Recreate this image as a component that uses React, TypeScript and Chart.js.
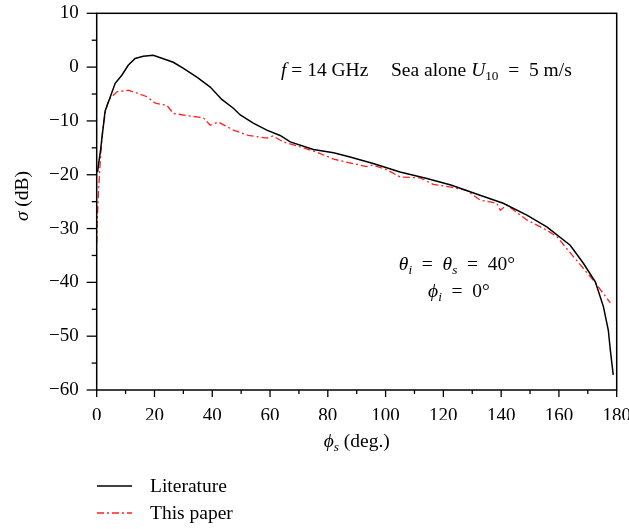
import React, { useEffect, useRef } from "react";
import { Chart, registerables } from "chart.js";

Chart.register(...registerables);

// Literature (black solid)
const litX = [0.3, 0.6, 1.2, 2.9, 6.4, 8.7, 10.9, 13.3, 16.1, 19.6, 26.5, 29.9, 34.8, 39.3, 43.3, 47.2, 49.7, 54.2, 58.9, 63.5, 67, 75, 82, 87.7, 95.7, 105, 114.3, 122.6, 132.7, 140.7, 148.9, 155.8, 163.9, 168.4, 172.6, 175.4, 177.1, 177.8, 178.8];
const litY = [-19.5, -18.2, -16, -8.2, -3.0, -1.5, 0.35, 1.6, 2.0, 2.2, 0.9, -0.2, -1.9, -3.7, -6.0, -7.6, -8.9, -10.4, -11.7, -12.7, -13.9, -15.3, -15.9, -16.7, -17.9, -19.5, -20.7, -21.9, -23.8, -25.3, -27.5, -29.7, -33.1, -36.4, -39.9, -44.5, -48.9, -52.6, -57.2];

// This paper (red dash-dot)
const papX = [0, 0.1, 0.6, 1.2, 2.0, 2.9, 4, 7, 10.9, 14.4, 17.4, 20.3, 24.3, 26.5, 32.4, 36.9, 39.3, 42.1, 47.3, 52.5, 59, 61, 64.6, 70.4, 76.2, 82, 87.7, 93.5, 95.7, 100.5, 105, 112, 116.5, 122.6, 128.1, 132.7, 138.5, 139.7, 142, 148.9, 155.8, 159.3, 165, 171.9, 177.8];
const papY = [-32.7, -29.7, -23.4, -17.9, -12, -8.6, -6.2, -4.6, -4.3, -4.9, -5.5, -6.7, -7.1, -8.6, -9.1, -9.4, -10.8, -10.2, -11.7, -12.7, -13.2, -12.8, -13.9, -14.8, -15.8, -17.1, -17.8, -18.5, -18.2, -19.1, -20.4, -20.6, -21.8, -22.3, -22.9, -24.7, -25.3, -26.6, -25.6, -28.4, -30.3, -31.5, -35.2, -39.6, -43.8];

const xMin = 0, xMax = 180, xStep = 10, xLabelStep = 20;
const yMin = -60, yMax = 10, yStep = 5, yLabelStep = 10;

const seriesNames = ["Literature", "This paper"];

const FONT = "'Liberation Serif', 'DejaVu Serif', serif";
const TICK_SIZE = 19;
const TEXT_SIZE = 19.5;

type Part = { t: string; i?: boolean; sub?: boolean };

function partFont(p: Part, size: number) {
  const s = p.sub ? size * 0.68 : size;
  return `${p.i ? "italic " : ""}${s}px ${FONT}`;
}

function measureRich(ctx: CanvasRenderingContext2D, parts: Part[], size: number) {
  let w = 0;
  for (const p of parts) {
    ctx.font = partFont(p, size);
    w += ctx.measureText(p.t).width;
  }
  return w;
}

function drawRich(ctx: CanvasRenderingContext2D, parts: Part[], x: number, y: number, size: number, align: "left" | "center" = "left") {
  let cx = x;
  if (align === "center") cx = x - measureRich(ctx, parts, size) / 2;
  ctx.textAlign = "left";
  ctx.textBaseline = "alphabetic";
  for (const p of parts) {
    ctx.font = partFont(p, size);
    ctx.fillText(p.t, cx, p.sub ? y + size * 0.22 : y);
    cx += ctx.measureText(p.t).width;
  }
}

const decorPlugin = {
  id: "decor",
  afterDraw(chart: any) {
    const ctx: CanvasRenderingContext2D = chart.ctx;
    const { left, right, top, bottom } = chart.chartArea;
    const xs = chart.scales.x;
    const ys = chart.scales.y;
    ctx.save();
    ctx.strokeStyle = "#000";
    ctx.fillStyle = "#000";
    ctx.lineWidth = 1.5;
    ctx.strokeRect(left, top, right - left, bottom - top);
    ctx.lineWidth = 1.3;
    for (let v = xMin; v <= xMax; v += xStep) {
      const px = xs.getPixelForValue(v);
      const len = v % xLabelStep === 0 ? 7 : 4;
      ctx.beginPath();
      ctx.moveTo(px, bottom);
      ctx.lineTo(px, bottom + len);
      ctx.stroke();
    }
    for (let v = yMin; v <= yMax; v += yStep) {
      const py = ys.getPixelForValue(v);
      const len = v % yLabelStep === 0 ? 10 : 5;
      ctx.beginPath();
      ctx.moveTo(left, py);
      ctx.lineTo(left - len, py);
      ctx.stroke();
    }
    const size = TEXT_SIZE;
    // annotations
    drawRich(ctx, [{ t: "f", i: true }, { t: " = 14 GHz" }], 281, 76, size);
    drawRich(ctx, [{ t: "Sea alone " }, { t: "U", i: true }, { t: "10", sub: true }, { t: "  =  5 m/s" }], 391, 76, size);
    drawRich(ctx, [{ t: "θ", i: true }, { t: "i", i: true, sub: true }, { t: "  =  " }, { t: "θ", i: true }, { t: "s", i: true, sub: true }, { t: "  =  40°" }], 457, 270, size, "center");
    drawRich(ctx, [{ t: "ϕ", i: true }, { t: "i", i: true, sub: true }, { t: "  =  0°" }], 459, 297, size, "center");
    // axis titles
    drawRich(ctx, [{ t: "ϕ", i: true }, { t: "s", i: true, sub: true }, { t: " (deg.)" }], (left + right) / 2, 447, size, "center");
    ctx.save();
    ctx.translate(28, 196);
    ctx.rotate(-Math.PI / 2);
    drawRich(ctx, [{ t: "σ", i: true }, { t: " (dB)" }], 0, 0, size, "center");
    ctx.restore();
    // legend
    ctx.lineWidth = 1.5;
    ctx.strokeStyle = "#000";
    ctx.setLineDash([]);
    ctx.beginPath();
    ctx.moveTo(97, 486);
    ctx.lineTo(132, 486);
    ctx.stroke();
    ctx.strokeStyle = "#ff2020";
    ctx.lineWidth = 1.3;
    ctx.setLineDash([7, 3, 2, 3]);
    ctx.beginPath();
    ctx.moveTo(97, 513);
    ctx.lineTo(132, 513);
    ctx.stroke();
    ctx.setLineDash([]);
    ctx.fillStyle = "#000";
    drawRich(ctx, [{ t: seriesNames[0] }], 150, 492, size);
    drawRich(ctx, [{ t: seriesNames[1] }], 150, 519, size);
    ctx.restore();
  },
};

export default function App() {
  const ref = useRef<HTMLCanvasElement | null>(null);
  useEffect(() => {
    document.body.style.margin = "0";
    if (!ref.current) return;
    const chart = new Chart(ref.current, {
      type: "scatter",
      data: {
        datasets: [
          {
            label: seriesNames[0],
            data: litX.map((x, i) => ({ x, y: litY[i] })),
            showLine: true,
            borderColor: "#000",
            borderWidth: 1.5,
            pointRadius: 0,
            tension: 0,
          },
          {
            label: seriesNames[1],
            data: papX.map((x, i) => ({ x, y: papY[i] })),
            showLine: true,
            borderColor: "#ff2020",
            borderWidth: 1.3,
            borderDash: [7, 3, 2, 3],
            pointRadius: 0,
            tension: 0,
          },
        ],
      },
      options: {
        animation: false,
        responsive: false,
        maintainAspectRatio: false,
        layout: { padding: { left: 0, right: 12.3, top: 13.3, bottom: 109 } },
        plugins: { legend: { display: false }, tooltip: { enabled: false } },
        scales: {
          x: {
            type: "linear",
            min: xMin,
            max: xMax,
            grid: { display: false, drawTicks: false },
            border: { display: false },
            ticks: {
              stepSize: xLabelStep,
              color: "#000",
              font: { family: FONT, size: TICK_SIZE },
              padding: 15,
              maxRotation: 0,
              autoSkip: false,
            },
            afterFit: (s: any) => {
              s.height = 30;
              s.paddingRight = 0;
              s.paddingLeft = 0;
            },
          },
          y: {
            type: "linear",
            min: yMin,
            max: yMax,
            grid: { display: false, drawTicks: false },
            border: { display: false },
            ticks: {
              stepSize: yLabelStep,
              color: "#000",
              font: { family: FONT, size: TICK_SIZE },
              padding: 18,
              autoSkip: false,
              callback: (v: any) => (Number(v) < 0 ? "\u2212" + Math.abs(Number(v)) : String(v)),
            },
            afterFit: (s: any) => {
              s.width = 96.7;
              s.paddingTop = 0;
              s.paddingBottom = 0;
            },
          },
        },
      },
      plugins: [decorPlugin],
    });
    return () => chart.destroy();
  }, []);
  return <canvas ref={ref} width={629} height={529} style={{ display: "block" }} />;
}
